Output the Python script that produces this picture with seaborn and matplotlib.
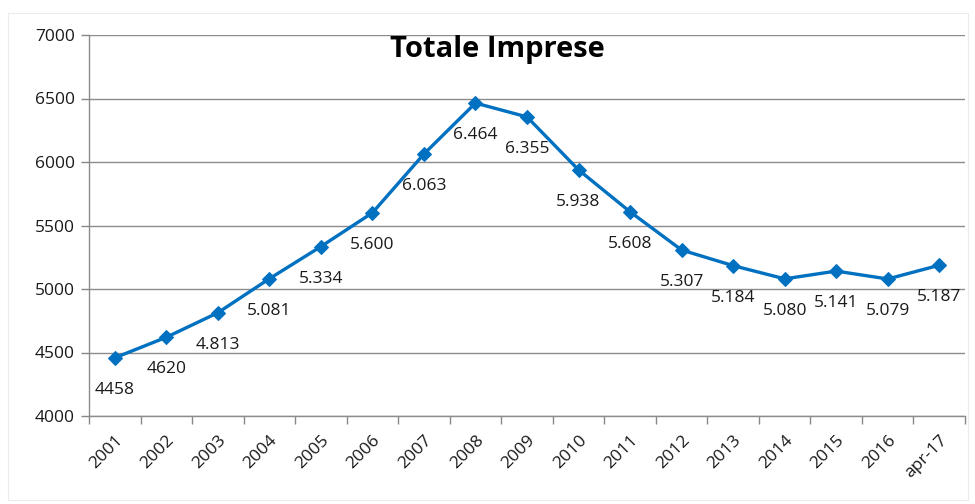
import matplotlib
matplotlib.use("Agg")
import matplotlib.pyplot as plt
from matplotlib.patches import Rectangle
from matplotlib.ticker import FixedLocator
import seaborn as sns
import pandas as pd

periods = ["2001", "2002", "2003", "2004", "2005", "2006", "2007", "2008", "2009",
           "2010", "2011", "2012", "2013", "2014", "2015", "2016", "apr-17"]
imprese = [4458, 4620, 4813, 5081, 5334, 5600, 6063, 6464, 6355,
           5938, 5608, 5307, 5184, 5080, 5141, 5079, 5187]
# the first two values are printed without a thousands separator
plain_labels = {0, 1}
y_ticks = [4000, 4500, 5000, 5500, 6000, 6500, 7000]

sns.set_theme(style="white")
plt.rcParams["font.family"] = ["Open Sans", "DejaVu Sans"]

df = pd.DataFrame({"pos": range(len(periods)), "val": imprese})

fig = plt.figure(figsize=(9.75, 5.04), dpi=100)
fig.patches.append(Rectangle((8 / 975, 1 - 500 / 504), 960 / 975, 487 / 504,
                             transform=fig.transFigure, fill=False,
                             edgecolor="#ececec", linewidth=0.8))
ax = fig.add_axes([89 / 975, 1 - 416 / 504, 876 / 975, 381 / 504])

line_color = "#0070C0"
sns.lineplot(data=df, x="pos", y="val", ax=ax, color=line_color, linewidth=2.4,
             marker="D", markersize=7.5, markeredgecolor=line_color,
             markerfacecolor=line_color, legend=False)

for i, v in enumerate(imprese):
    txt = str(v) if i in plain_labels else f"{v:,}".replace(",", ".")
    ax.annotate(txt, (i, v), xytext=(0, -23), textcoords="offset points",
                ha="center", va="center", fontsize=12.5, color="#1a1a1a")

ax.set_xlim(-0.5, len(periods) - 0.5)
ax.set_ylim(4000, 7000)
ax.set_yticks(y_ticks)
ax.set_yticklabels([str(t) for t in y_ticks], fontsize=12.5, color="#1a1a1a")
ax.set_xticks(range(len(periods)))
ax.set_xticklabels(periods, rotation=45, ha="right", rotation_mode="anchor",
                   fontsize=12.5, color="#1a1a1a")
ax.xaxis.set_minor_locator(FixedLocator([i - 0.5 for i in range(len(periods) + 1)]))
ax.tick_params(axis="x", which="major", length=0, pad=12)
ax.tick_params(axis="x", which="minor", length=6, width=1, color="#888888",
               direction="out", bottom=True)
ax.tick_params(axis="y", which="major", length=6, width=1, color="#888888",
               direction="out", left=True, pad=4)

ax.yaxis.grid(True, color="#8c8c8c", linewidth=1)
ax.xaxis.grid(False)
ax.set_axisbelow(True)
for side in ["top", "right"]:
    ax.spines[side].set_visible(False)
for side in ["left", "bottom"]:
    ax.spines[side].set_color("#8c8c8c")
    ax.spines[side].set_linewidth(1)
ax.set_xlabel("")
ax.set_ylabel("")

fig.text(497 / 975, 1 - 50 / 504, "Totale Imprese", ha="center", va="center",
         fontsize=21, fontweight="bold", color="black")

fig.savefig("out.png", dpi=100)
